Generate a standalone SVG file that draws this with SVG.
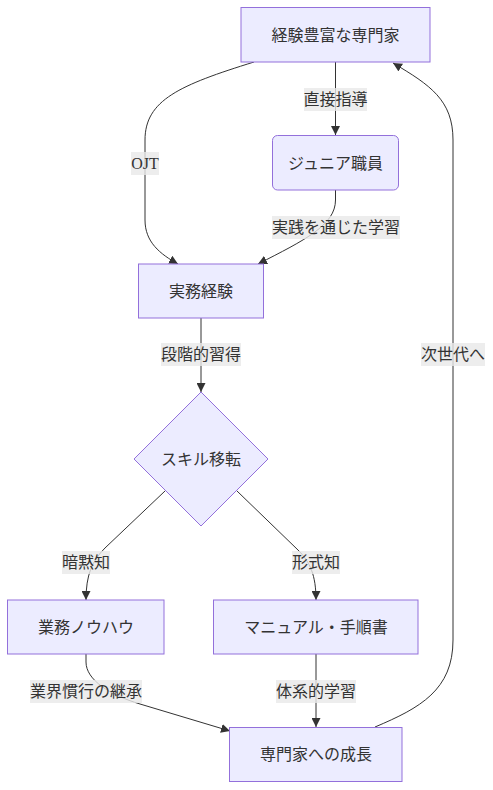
<svg xmlns="http://www.w3.org/2000/svg" width="493" height="790" viewBox="0 0 493 790">
<style>
.node rect, .node polygon { fill: #ECECFF; stroke: #9370DB; stroke-width: 1; }
text { font-family: "Liberation Serif", "Noto Sans CJK JP", sans-serif; font-size: 16px; fill: #333; text-anchor: middle; dominant-baseline: central; }
.edge { fill: none; stroke: #333; stroke-width: 1; marker-end: url(#arrow); }
.lbl rect { fill: #e8e8e8; opacity: 0.8; }
</style>
<defs>
<marker id="arrow" viewBox="0 0 10 10" refX="10" refY="5" markerWidth="9" markerHeight="9" markerUnits="userSpaceOnUse" orient="auto">
<path d="M0,0 L10,5 L0,10 z" fill="#333"/>
</marker>
</defs>
<rect width="493" height="790" fill="#fff"/>
<g id="connectors">
<path class="edge" d="M335.5,62 L335.5,135"/>
<path class="edge" d="M254,62 C180,85 145,100 145,140 L145,220 C145,242 160,254 178,264"/>
<path class="edge" d="M335.5,190 L335.5,200 C335.5,225 305,240 258,264"/>
<path class="edge" d="M201,318 L201,392"/>
<path class="edge" d="M165,491 L105,548 C92,561 86,575 86,600"/>
<path class="edge" d="M237,491 L298,550 C310,562 316,575 316,600"/>
<path class="edge" d="M86,654 L86,662 C86,680 110,695 140,704 L230,731"/>
<path class="edge" d="M316,654 L316,727"/>
<path class="edge" d="M375,727 C420,708 453,690 453,640 L453,140 C453,100 430,85 393,63"/>
<g class="lbl"><rect x="304" y="88" width="63" height="23"/><text x="335.5" y="99.5">直接指導</text></g>
<g class="lbl"><rect x="131" y="152" width="28" height="23"/><text x="145" y="163.5">OJT</text></g>
<g class="lbl"><rect x="272" y="216" width="128" height="23"/><text x="336" y="227.5">実践を通じた学習</text></g>
<g class="lbl"><rect x="161" y="343" width="80" height="23"/><text x="201" y="354.5">段階的習得</text></g>
<g class="lbl"><rect x="62" y="551" width="48" height="23"/><text x="86" y="562.5">暗黙知</text></g>
<g class="lbl"><rect x="292" y="551" width="48" height="23"/><text x="316" y="562.5">形式知</text></g>
<g class="lbl"><rect x="30" y="680" width="112" height="23"/><text x="86" y="691.5">業界慣行の継承</text></g>
<g class="lbl"><rect x="276" y="680" width="80" height="23"/><text x="316" y="691.5">体系的学習</text></g>
<g class="lbl"><rect x="421" y="343" width="64" height="23"/><text x="453" y="354.5">次世代へ</text></g>
</g>
<g id="expert" class="node"><rect x="241" y="7.5" width="189" height="54.5"/><text x="335.5" y="35">経験豊富な専門家</text></g>
<g id="junior" class="node"><rect x="272.5" y="135.5" width="126" height="54.5" rx="5" ry="5"/><text x="335.5" y="163">ジュニア職員</text></g>
<g id="practice" class="node"><rect x="138.5" y="264" width="125" height="54"/><text x="201" y="291">実務経験</text></g>
<g id="transfer" class="node"><polygon points="201,392 268,459 201,526 134,459"/><text x="201" y="459">スキル移転</text></g>
<g id="knowhow" class="node"><rect x="7.5" y="600" width="156.5" height="54"/><text x="86" y="627">業務ノウハウ</text></g>
<g id="manual" class="node"><rect x="213.5" y="600" width="204.5" height="54"/><text x="316" y="627">マニュアル・手順書</text></g>
<g id="growth" class="node"><rect x="229.5" y="727.5" width="172.5" height="54"/><text x="316" y="754.5">専門家への成長</text></g>
</svg>
